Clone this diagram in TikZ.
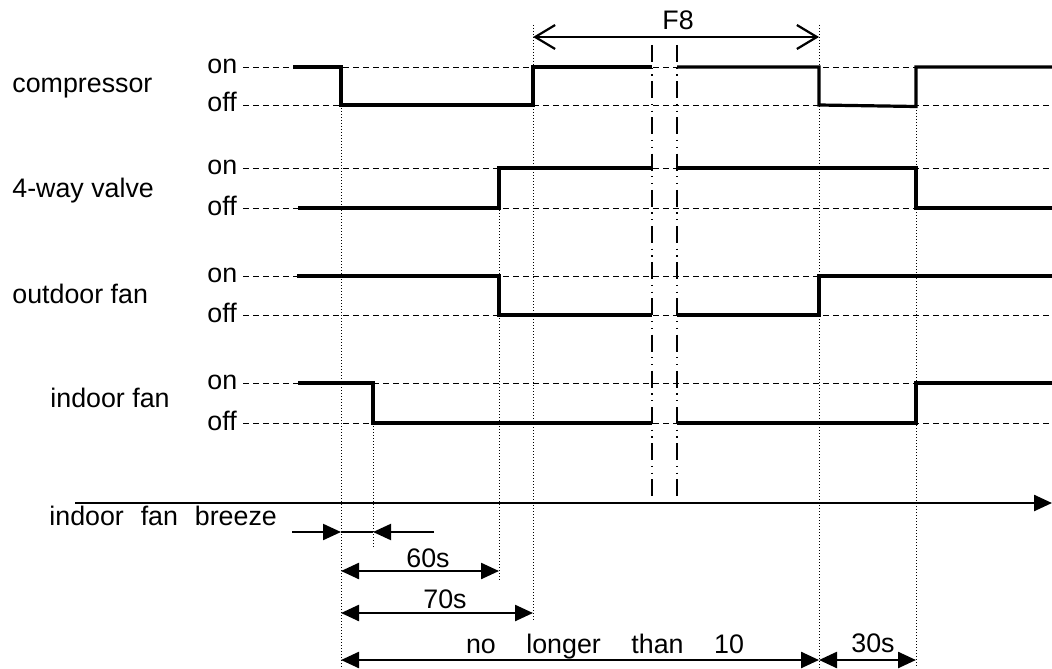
\documentclass[tikz,border=0pt]{standalone}
\usepackage{fontspec}
\setmainfont{Liberation Sans}
\usetikzlibrary{arrows.meta,positioning}

\begin{document}
\begin{tikzpicture}[x=0.5pt,y=-0.5pt,>=Triangle,
  lbl/.style={font=\fontsize{13.4}{16}\selectfont,inner sep=0pt},
  ref/.style={line width=0.45pt,dash pattern=on 3pt off 2pt},
  sig/.style={line width=1.6pt,line join=miter},
  guide/.style={line width=0.45pt,dash pattern=on 0.5pt off 1pt},
  brk/.style={line width=0.6pt,dash pattern=on 8.5pt off 2.8pt on 0.6pt off 2.8pt on 0.6pt off 2.8pt},
  dim/.style={{Triangle[length=9pt,width=8pt]}-{Triangle[length=9pt,width=8pt]},line width=1.2pt},
  oneway/.style={-{Triangle[length=9pt,width=8pt]},line width=1.1pt},
  barb/.style={{Straight Barb[length=10pt,width=12pt,line width=1.1pt]}-{Straight Barb[length=10pt,width=12pt,line width=1.1pt]},line width=1.1pt}]
  \useasboundingbox (0,0) rectangle (1052,668);
  % signal names
  \node[lbl,anchor=base west](comp)at(12,93){compressor};
  \node[lbl,anchor=base west](valve)at(12,198){4-way valve};
  \node[lbl,anchor=base west](ofan)at(12,303){outdoor fan};
  \node[lbl,anchor=base west](ifan)at(50,407){indoor fan};
  % on/off levels
  \foreach \n/\yon/\yoff in {c/67/105,v/168/208,o/276/315,i/383/423}{
    \node[lbl,anchor=base west](on\n)at(207,\yon+6.5){on};
    \node[lbl,anchor=base west](off\n)at(207,\yoff+7){off};
    \draw[ref] (243,\yon) -- (1052,\yon);
    \draw[ref] (243,\yoff) -- (1052,\yoff);
  }
  % guide lines
  \draw[guide] (341,105) -- (341,668);
  \draw[guide] (373,423) -- (373,548);
  \draw[guide] (499,168) -- (499,580);
  \draw[guide] (533,25) -- (533,622);
  \draw[guide] (819,25) -- (819,668);
  \draw[guide] (916,107) -- (916,668);
  % break
  \draw[brk] (652,45) -- (652,500);
  \draw[brk] (677,45) -- (677,500);
  % waveforms
  \draw[sig] (293,67) -- (341,67) -- (341,105) -- (533,105) -- (533,67) -- (652,67);
  \draw[sig] (677,67) -- (819,67) -- (819,105) -- (916,106.5) -- (916,67) -- (1052,67);
  \draw[sig] (298,208) -- (499,208) -- (499,168) -- (652,168);
  \draw[sig] (677,168) -- (916,168) -- (916,208) -- (1052,208);
  \draw[sig] (297,276) -- (499,276) -- (499,315) -- (652,315);
  \draw[sig] (677,315) -- (819,315) -- (819,276) -- (1052,276);
  \draw[sig] (298,383) -- (373,383) -- (373,423) -- (652,423);
  \draw[sig] (677,423) -- (916,423) -- (916,383) -- (1052,383);
  % time axis
  \coordinate (ax0) at (75,503); \coordinate (ax1) at (1052,503);
  \draw[-{Triangle[length=9pt,width=8pt]},line width=1.2pt] (ax0) -- (ax1);
  \node[lbl,anchor=base west](brz)at(49,525){indoor\hspace{.63em}fan\hspace{.63em}breeze};
  % breeze interval
  \coordinate (bz0) at (292,532); \coordinate (bz1) at (341,532);
  \coordinate (bz2) at (373,532); \coordinate (bz3) at (434,532);
  \draw[oneway] (bz0) -- (bz1);
  \draw[line width=0.6pt] (bz1) -- (bz2);
  \draw[oneway] (bz3) -- (bz2);
  % durations
  \coordinate (d60a) at (341,571); \coordinate (d60b) at (499,571);
  \coordinate (d70a) at (341,613); \coordinate (d70b) at (533,613);
  \coordinate (dmxa) at (341,660); \coordinate (dmxb) at (819,660);
  \coordinate (d30b) at (916,660);
  \coordinate (f8a) at (533,37); \coordinate (f8b) at (819,37);
  \draw[dim] (d60a) -- (d60b);
  \draw[dim] (d70a) -- (d70b);
  \draw[dim] (dmxa) -- (dmxb);
  \draw[dim] (dmxb) -- (d30b);
  \draw[barb] (f8a) -- (f8b);
  \node[lbl,anchor=base](t60)at(428,567){60s};
  \node[lbl,anchor=base](t70)at(445,608){70s};
  \node[lbl,anchor=base](tmx)at(605,653){no\hspace{1.14em}longer\hspace{1.14em}than\hspace{1.14em}10};
  \node[lbl,anchor=base](t30)at(873,652){30s};
  \node[lbl,anchor=base](tf8)at(678,30){F8};
\end{tikzpicture}
\end{document}
